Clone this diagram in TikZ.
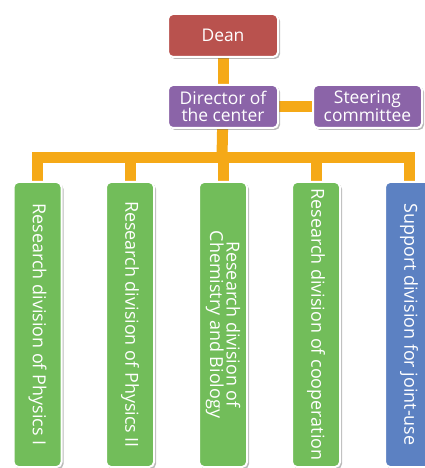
\documentclass[tikz,border=0pt]{standalone}
\usepackage{fontspec}
\setmainfont{Open Sans}
\usetikzlibrary{shadows,backgrounds}
\definecolor{deanred}{HTML}{B9524E}
\definecolor{dirpurple}{HTML}{8B64A8}
\definecolor{divgreen}{HTML}{72BD5A}
\definecolor{supblue}{HTML}{5C81C2}
\definecolor{connorange}{HTML}{F5A917}
\begin{document}
\begin{tikzpicture}[x=1bp,y=-1bp,
  box/.style={draw=white, line width=2bp, rounded corners=5bp, text=white, inner sep=0pt,
    align=center, font=\fontsize{17.5}{17}\selectfont,
    drop shadow={shadow xshift=2bp, shadow yshift=-2bp, fill=black!60, opacity=.45}},
  topbox/.style={box, minimum width=110bp, minimum height=43bp},
  divbox/.style={box, rotate=-90, minimum width=285bp, minimum height=48bp, font=\fontsize{18}{16.5}\selectfont},
  conn/.style={draw=connorange, line width=11bp, line join=miter}]
\useasboundingbox (0,0) rectangle (424,468);
\coordinate (bar) at (222,157.5);
\node[topbox, fill=deanred] (dean) at (223,35.5) {Dean};
\node[topbox, fill=dirpurple] (director) at (223,106.5) {Director of\\the center};
\node[topbox, fill=dirpurple, minimum width=109bp] (steering) at (367.5,106.5) {Steering\\committee};
\node[divbox, fill=divgreen] (d1) at (37.5,324.5) {Research division of Physics I};
\node[divbox, fill=divgreen] (d2) at (130,324.5) {Research division of Physics II};
\node[divbox, fill=divgreen] (d3) at (223,324.5) {Research division of\\Chemistry and Biology};
\node[divbox, fill=divgreen] (d4) at (316,324.5) {Research division of cooperation};
\node[divbox, fill=supblue] (d5) at (409,324.5) {Support division for joint-use};
\begin{scope}[on background layer]
  \draw[conn] (dean) -- (director);
  \draw[conn] (director) -- (steering);
  \draw[conn] (director) -- (bar);
  \draw[conn] (d1.west) -- (d1.west |- bar) -- (d5.west |- bar) -- (d5.west);
  \draw[conn] (d2.west |- bar) -- (d2.west);
  \draw[conn] (d3.west |- bar) -- (d3.west);
  \draw[conn] (d4.west |- bar) -- (d4.west);
\end{scope}
\end{tikzpicture}
\end{document}
